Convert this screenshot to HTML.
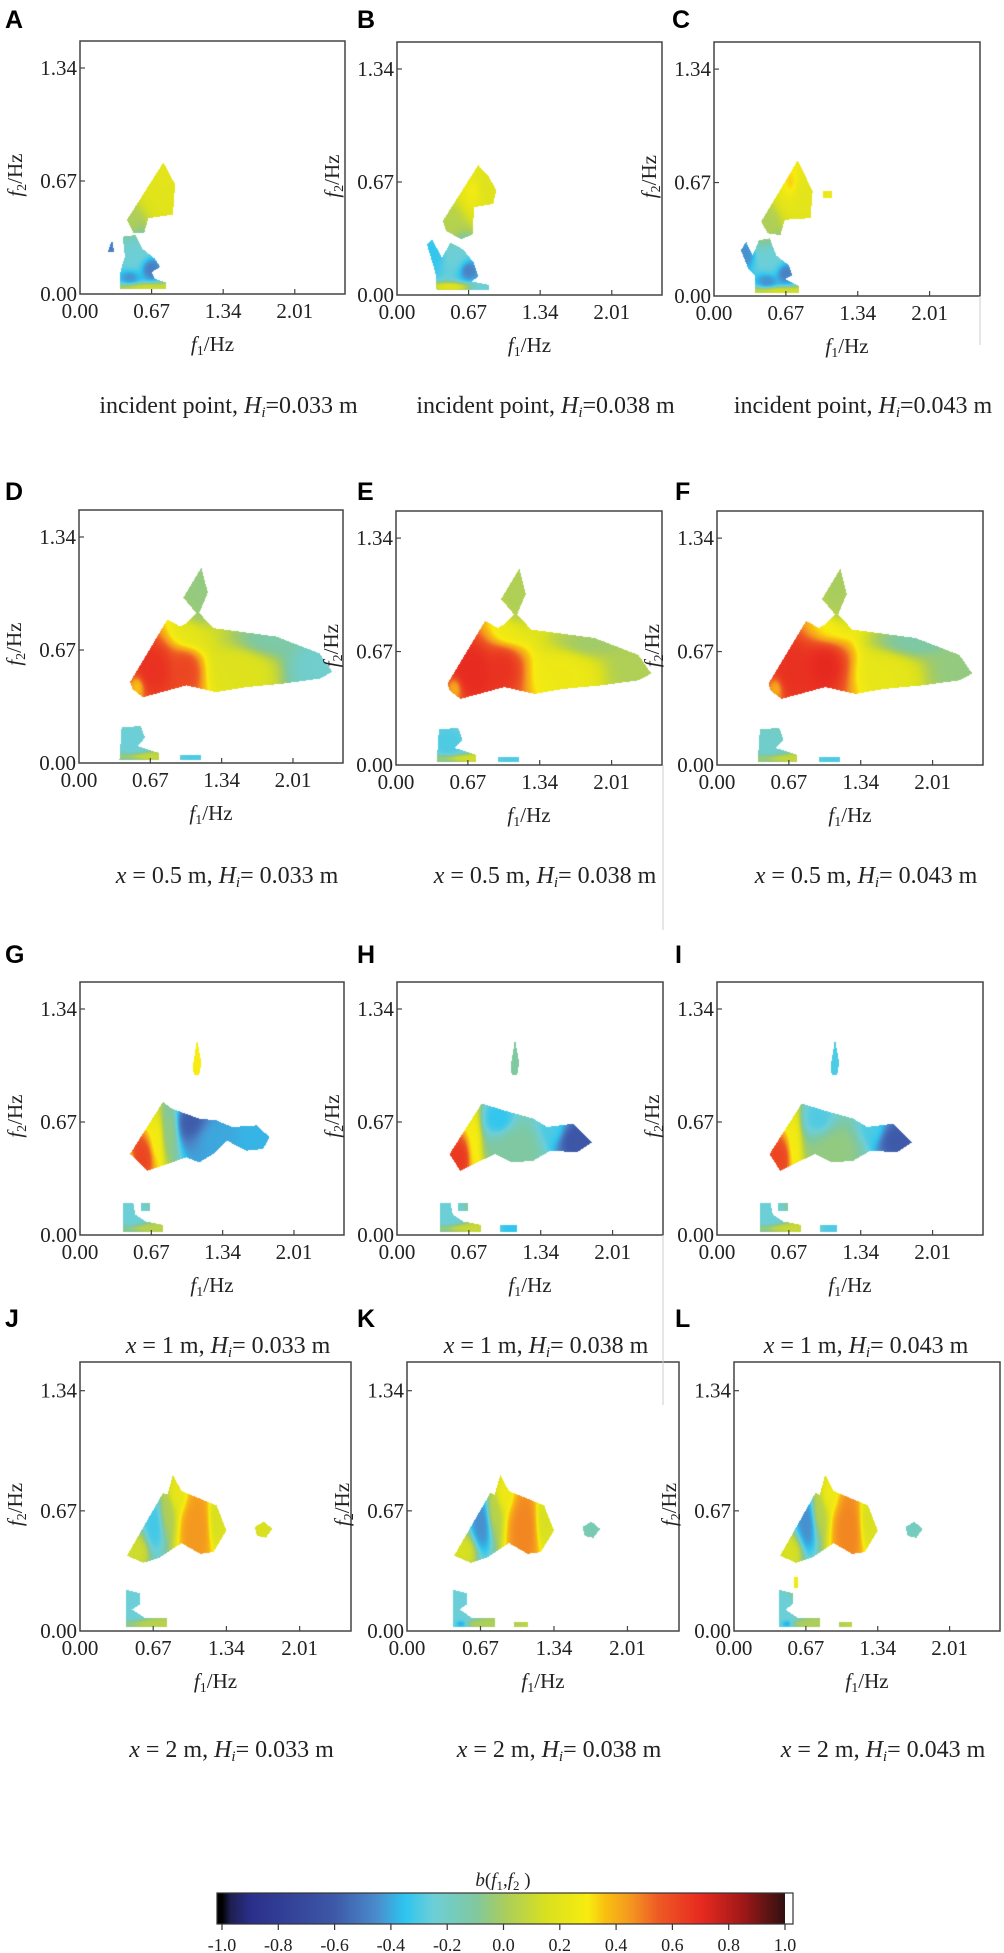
<!DOCTYPE html>
<html><head><meta charset="utf-8">
<style>
html,body{margin:0;padding:0;background:#fff;}
#wrap{position:relative;width:1004px;height:1953px;overflow:hidden;}
#heat{position:absolute;left:0;top:0;}
#ov{position:absolute;left:0;top:0;}
text{font-family:"Liberation Serif",serif;fill:#222;}
.lt{font-family:"Liberation Sans",sans-serif;font-weight:bold;font-size:25px;fill:#000;}
</style></head>
<body>
<div id="wrap">
<canvas id="heat" width="1004" height="1953"></canvas>
<svg id="ov" width="1004" height="1953" xmlns="http://www.w3.org/2000/svg"></svg>
</div>
<script>
// ---------- data ----------
const xTicks=[0.67,1.34,2.01];
const xTickLabels=["0.00","0.67","1.34","2.01"];
const yTicks=[0.67,1.34];
const yTickLabels=["0.00","0.67","1.34"];
const cbTicks=[-1.0,-0.8,-0.6,-0.4,-0.2,0.0,0.2,0.4,0.6,0.8,1.0];
const cbTickLabels=["-1.0","-0.8","-0.6","-0.4","-0.2","0.0","0.2","0.4","0.6","0.8","1.0"];
const panelLetters=["A","B","C","D","E","F","G","H","I","J","K","L"];
const captionsPos=["x = 0.5 m","x = 1 m","x = 2 m"];
const captionsH=["0.033","0.038","0.043"];

// row 1 shapes (f1,f2 in Hz)
const upperA=[[0.44,0.44],[0.78,0.78],[0.89,0.65],[0.87,0.47],[0.64,0.45],[0.60,0.36],[0.50,0.36]];
const lowerA=[[0.40,0.34],[0.52,0.35],[0.58,0.27],[0.70,0.21],[0.75,0.16],[0.67,0.13],[0.70,0.09],[0.80,0.07],[0.81,0.03],[0.37,0.03],[0.38,0.14],[0.42,0.22]];
const triA=[[0.26,0.25],[0.30,0.32],[0.32,0.25]];
const upperB=[[0.43,0.44],[0.76,0.77],[0.86,0.70],[0.93,0.62],[0.90,0.54],[0.72,0.52],[0.71,0.36],[0.60,0.33],[0.46,0.38]];
const lowerB=[[0.28,0.30],[0.33,0.33],[0.42,0.22],[0.50,0.31],[0.62,0.27],[0.72,0.19],[0.76,0.11],[0.70,0.08],[0.86,0.06],[0.86,0.03],[0.37,0.03],[0.36,0.13]];
const upperC=[[0.44,0.44],[0.78,0.80],[0.92,0.62],[0.90,0.46],[0.66,0.45],[0.62,0.36],[0.50,0.37]];
const lowerC=[[0.25,0.27],[0.30,0.32],[0.36,0.24],[0.42,0.33],[0.52,0.34],[0.58,0.24],[0.70,0.18],[0.73,0.12],[0.66,0.10],[0.79,0.06],[0.79,0.02],[0.38,0.02],[0.38,0.12],[0.32,0.16]];
const dotC=[[1.02,0.62],[1.10,0.62],[1.10,0.58],[1.02,0.58]];
// row 2 shapes
const mainD=[[0.48,0.48],[0.83,0.85],[0.95,0.81],[1.01,0.83],[1.10,0.89],[0.98,0.98],[1.15,1.16],[1.21,1.01],[1.13,0.89],[1.26,0.80],[1.85,0.75],[2.26,0.65],[2.38,0.54],[2.26,0.50],[1.91,0.47],[1.57,0.45],[1.29,0.42],[1.01,0.46],[0.60,0.39],[0.50,0.44]];
const bottomD=[[0.40,0.21],[0.58,0.22],[0.62,0.15],[0.55,0.10],[0.75,0.06],[0.75,0.02],[0.38,0.02]];
const stripD=[[0.95,0.05],[1.15,0.05],[1.15,0.02],[0.95,0.02]];
// row 3 shapes
const mainG=[[0.47,0.48],[0.78,0.79],[0.86,0.75],[1.12,0.69],[1.28,0.68],[1.43,0.64],[1.66,0.65],[1.78,0.58],[1.72,0.51],[1.56,0.50],[1.38,0.56],[1.25,0.48],[1.12,0.43],[1.00,0.46],[0.63,0.38]];
const mainH=[[0.49,0.48],[0.79,0.78],[0.99,0.74],[1.27,0.69],[1.40,0.64],[1.64,0.66],[1.82,0.55],[1.68,0.49],[1.43,0.50],[1.27,0.44],[1.07,0.43],[0.91,0.48],[0.59,0.38]];
const spikeG=[[1.06,1.00],[1.10,1.16],[1.14,1.02],[1.12,0.95],[1.07,0.95]];
const bottomG=[[0.40,0.19],[0.50,0.19],[0.52,0.12],[0.62,0.08],[0.78,0.06],[0.78,0.02],[0.40,0.02]];
const dotG=[[0.57,0.19],[0.66,0.19],[0.66,0.14],[0.57,0.14]];
const stripG=[[0.96,0.06],[1.12,0.06],[1.12,0.02],[0.96,0.02]];
// row 4 shapes
const mainJ=[[0.43,0.42],[0.76,0.77],[0.80,0.76],[0.85,0.87],[0.93,0.78],[1.05,0.75],[1.25,0.70],[1.34,0.56],[1.22,0.44],[1.10,0.43],[0.93,0.49],[0.73,0.41],[0.58,0.38]];
const dotJ=[[1.60,0.58],[1.68,0.61],[1.76,0.57],[1.70,0.52],[1.62,0.53]];
const bottomJ=[[0.42,0.23],[0.55,0.21],[0.55,0.15],[0.48,0.12],[0.60,0.07],[0.80,0.07],[0.80,0.02],[0.42,0.02]];
const stripK=[[0.98,0.05],[1.10,0.05],[1.10,0.02],[0.98,0.02]];
const yellowL=[[0.56,0.30],[0.60,0.30],[0.60,0.24],[0.56,0.24]];

// kernels [f1, f2, sigma1, sigma2, value]
const kernA=[[0.75,0.65,0.15,0.15,0.2],[0.48,0.42,0.08,0.08,0.02],[0.5,0.25,0.1,0.1,-0.25],[0.66,0.15,0.06,0.04,-0.5],[0.47,0.10,0.06,0.03,-0.45],[0.6,0.04,0.15,0.015,0.12],[0.28,0.27,0.05,0.05,-0.5]];
const kernB=[[0.72,0.62,0.07,0.07,0.32],[0.8,0.65,0.15,0.12,0.18],[0.5,0.42,0.08,0.08,0.05],[0.35,0.25,0.08,0.08,-0.35],[0.55,0.22,0.1,0.08,-0.25],[0.66,0.15,0.06,0.04,-0.5],[0.5,0.05,0.1,0.015,0.2],[0.8,0.04,0.06,0.015,-0.25]];
const kernC=[[0.72,0.66,0.06,0.07,0.38],[0.8,0.6,0.15,0.12,0.2],[0.5,0.42,0.08,0.08,0.02],[0.3,0.25,0.05,0.05,-0.45],[0.55,0.22,0.1,0.08,-0.25],[0.66,0.14,0.06,0.04,-0.5],[0.5,0.09,0.06,0.03,-0.45],[0.6,0.03,0.15,0.015,0.15],[1.06,0.6,0.05,0.05,0.25]];
const kernD=[[0.70,0.56,0.13,0.10,0.68],[1.0,0.55,0.1,0.09,0.62],[1.05,0.76,0.12,0.06,0.22],[0.55,0.45,0.04,0.04,0.35],[1.5,0.55,0.18,0.09,0.18],[1.8,0.72,0.2,0.05,-0.12],[2.25,0.58,0.15,0.1,-0.22],[1.12,1.0,0.1,0.15,-0.05],[0.5,0.13,0.1,0.08,-0.25],[0.6,0.04,0.15,0.015,0.1],[1.05,0.035,0.1,0.02,-0.3]];
const kernE=[[0.72,0.56,0.14,0.11,0.7],[1.0,0.58,0.12,0.1,0.68],[1.05,0.78,0.12,0.06,0.25],[0.55,0.45,0.04,0.04,0.4],[1.55,0.55,0.18,0.09,0.25],[1.8,0.72,0.2,0.05,-0.02],[2.25,0.58,0.15,0.1,0.02],[1.12,1.0,0.1,0.15,0.02],[0.5,0.13,0.1,0.08,-0.3],[0.6,0.04,0.15,0.015,0.15],[1.05,0.035,0.1,0.02,-0.3]];
const kernF=[[0.72,0.56,0.14,0.11,0.68],[1.02,0.6,0.14,0.11,0.72],[1.05,0.8,0.12,0.06,0.3],[0.55,0.45,0.04,0.04,0.4],[1.55,0.55,0.18,0.09,0.22],[1.8,0.72,0.2,0.05,-0.12],[2.25,0.58,0.15,0.1,-0.05],[1.12,1.0,0.1,0.15,0.0],[0.5,0.13,0.1,0.08,-0.22],[0.6,0.04,0.15,0.015,0.1],[1.05,0.035,0.1,0.02,-0.3]];
const kernG=[[0.58,0.45,0.08,0.07,0.62],[0.72,0.55,0.04,0.1,0.28],[0.85,0.62,0.05,0.1,-0.05],[1.05,0.66,0.1,0.07,-0.6],[1.25,0.58,0.14,0.08,-0.4],[1.65,0.58,0.1,0.06,-0.38],[0.47,0.45,0.03,0.03,0.3],[1.1,1.05,0.1,0.1,0.3],[0.48,0.13,0.08,0.08,-0.25],[0.6,0.04,0.15,0.015,0.05]];
const kernH=[[0.58,0.45,0.07,0.07,0.66],[0.72,0.52,0.035,0.12,0.3],[0.95,0.68,0.08,0.06,-0.35],[1.1,0.52,0.15,0.08,-0.1],[1.65,0.56,0.1,0.06,-0.62],[1.45,0.62,0.08,0.06,-0.3],[1.1,1.05,0.1,0.1,-0.1],[0.48,0.13,0.08,0.08,-0.25],[0.6,0.04,0.15,0.015,0.1],[1.05,0.04,0.06,0.02,-0.35]];
const kernI=[[0.58,0.45,0.07,0.07,0.62],[0.72,0.52,0.035,0.12,0.28],[0.95,0.68,0.08,0.06,-0.3],[1.1,0.52,0.15,0.08,-0.05],[1.65,0.56,0.1,0.06,-0.6],[1.45,0.62,0.08,0.06,-0.3],[1.1,1.05,0.1,0.1,-0.3],[0.48,0.13,0.08,0.08,-0.25],[0.6,0.04,0.15,0.015,0.1],[1.05,0.04,0.06,0.02,-0.3]];
const kernJ=[[0.52,0.44,0.08,0.05,0.12],[0.68,0.57,0.05,0.1,-0.32],[0.8,0.68,0.04,0.08,0.02],[0.88,0.76,0.05,0.05,0.22],[1.07,0.57,0.07,0.11,0.45],[1.25,0.62,0.04,0.08,0.15],[1.68,0.56,0.08,0.05,0.15],[0.48,0.14,0.08,0.08,-0.25],[0.6,0.04,0.15,0.015,0.05]];
const kernK=[[0.52,0.44,0.08,0.05,0.15],[0.68,0.58,0.05,0.1,-0.45],[0.8,0.68,0.04,0.08,0.05],[0.88,0.76,0.05,0.05,0.25],[1.07,0.57,0.07,0.11,0.48],[1.25,0.62,0.04,0.08,0.15],[1.68,0.56,0.08,0.05,-0.15],[0.48,0.14,0.08,0.08,-0.25],[0.5,0.04,0.05,0.015,-0.5],[0.65,0.04,0.15,0.015,0.02]];
const kernL=[[0.52,0.44,0.08,0.05,0.15],[0.68,0.58,0.05,0.1,-0.45],[0.8,0.68,0.04,0.08,0.05],[0.88,0.76,0.05,0.05,0.25],[1.07,0.57,0.07,0.11,0.48],[1.25,0.62,0.04,0.08,0.15],[1.68,0.56,0.08,0.05,-0.18],[0.58,0.27,0.05,0.05,0.3],[0.48,0.14,0.08,0.08,-0.25],[0.5,0.04,0.05,0.015,-0.5],[0.65,0.04,0.15,0.015,0.02]];

// colormap stops
const cmapVals=[-1.0,-0.97,-0.9,-0.6,-0.45,-0.35,-0.25,-0.1,0.0,0.15,0.3,0.36,0.45,0.55,0.7,0.85,1.0];
const cmapCols=["#000000","#1e1e50","#2a2f8a","#3e58a8","#4a8ccc","#2ec5f0","#6ccfd8","#80c8a0","#a8cc60","#d8e020","#f8ec10","#f8c010","#f49820","#ee5a24","#e82a20","#a01818","#301010"];

// ---------- layout ----------
const X_MAX=2.48, Y_MAX=1.5;
const panels=[
 {box:[80,41,345,294],polys:[upperA,lowerA,triA],kern:kernA,lx:5,ly:28},
 {box:[397,42,662,295],polys:[upperB,lowerB],kern:kernB,lx:357,ly:28},
 {box:[714,42,980,296],polys:[upperC,lowerC,dotC],kern:kernC,lx:672,ly:28},
 {box:[79,510,343,763],polys:[mainD,bottomD,stripD],kern:kernD,lx:5,ly:500},
 {box:[396,511,662,765],polys:[mainD,bottomD,stripD],kern:kernE,lx:357,ly:500},
 {box:[717,511,983,765],polys:[mainD,bottomD,stripD],kern:kernF,lx:675,ly:500},
 {box:[80,982,344,1235],polys:[mainG,spikeG,bottomG,dotG],kern:kernG,lx:5,ly:963},
 {box:[397,982,663,1235],polys:[mainH,spikeG,bottomG,dotG,stripG],kern:kernH,lx:357,ly:963},
 {box:[717,982,983,1235],polys:[mainH,spikeG,bottomG,dotG,stripG],kern:kernI,lx:675,ly:963},
 {box:[80,1362,351,1631],polys:[mainJ,dotJ,bottomJ],kern:kernJ,lx:5,ly:1327},
 {box:[407,1362,679,1631],polys:[mainJ,dotJ,bottomJ,stripK],kern:kernK,lx:357,ly:1327},
 {box:[734,1362,1000,1631],polys:[mainJ,dotJ,bottomJ,stripK,yellowL],kern:kernL,lx:675,ly:1327}
];

function hex(c){return [parseInt(c.substr(1,2),16),parseInt(c.substr(3,2),16),parseInt(c.substr(5,2),16)];}
const cmapRGB=cmapCols.map(hex);
function cmap(v){
  v=Math.max(-1,Math.min(1,v));
  for(let i=0;i<cmapVals.length-1;i++){
    if(v<=cmapVals[i+1]){const t=(v-cmapVals[i])/(cmapVals[i+1]-cmapVals[i]);const a=cmapRGB[i],b=cmapRGB[i+1];
      return [a[0]+(b[0]-a[0])*t,a[1]+(b[1]-a[1])*t,a[2]+(b[2]-a[2])*t];}
  }
  return cmapRGB[cmapRGB.length-1];
}
function inPoly(x,y,p){let c=false;for(let i=0,j=p.length-1;i<p.length;j=i++){const xi=p[i][0],yi=p[i][1],xj=p[j][0],yj=p[j][1];
  if(((yi>y)!==(yj>y))&&(x<(xj-xi)*(y-yi)/(yj-yi)+xi))c=!c;}return c;}
function field(k,x,y){let sw=0,sv=0;for(const q of k){const dx=(x-q[0])/q[2],dy=(y-q[1])/q[3];const d2=dx*dx+dy*dy;const w=1/Math.pow(1+d2,2.2);sw+=w;sv+=w*q[4];}return sv/sw;}

// ---------- heatmaps ----------
const cv=document.getElementById('heat');const ctx=cv.getContext('2d');
const img=ctx.createImageData(1004,1953);const D=img.data;
for(let i=0;i<D.length;i+=4){D[i]=255;D[i+1]=255;D[i+2]=255;D[i+3]=255;}
panels.forEach(P=>{
  const [x0,y0,x1,y1]=P.box;
  const sx=f=>x0+f/X_MAX*(x1-x0);
  const sy=f=>y1-f/Y_MAX*(y1-y0);
  const invx=px=>(px-x0)/(x1-x0)*X_MAX;
  const invy=py=>(y1-py)/(y1-y0)*Y_MAX;
  let bx0=1e9,bx1=-1e9,by0=1e9,by1=-1e9;
  P.polys.forEach(p=>p.forEach(pt=>{bx0=Math.min(bx0,sx(pt[0]));bx1=Math.max(bx1,sx(pt[0]));by0=Math.min(by0,sy(pt[1]));by1=Math.max(by1,sy(pt[1]));}));
  for(let py=Math.floor(by0);py<=Math.ceil(by1);py++){
    for(let px=Math.floor(bx0);px<=Math.ceil(bx1);px++){
      const f1=invx(px+0.5),f2=invy(py+0.5);
      let inside=false;for(const p of P.polys){if(inPoly(f1,f2,p)){inside=true;break;}}
      if(!inside)continue;
      const c=cmap(field(P.kern,f1,f2));const o=(py*1004+px)*4;
      D[o]=c[0];D[o+1]=c[1];D[o+2]=c[2];
    }
  }
});
ctx.putImageData(img,0,0);

// ---------- overlay ----------
const svg=document.getElementById('ov');const NS='http://www.w3.org/2000/svg';
function el(t,a,parent){const e=document.createElementNS(NS,t);for(const k in a)e.setAttribute(k,a[k]);(parent||svg).appendChild(e);return e;}

panels.forEach((P,i)=>{
  const [x0,y0,x1,y1]=P.box;
  const sx=f=>x0+f/X_MAX*(x1-x0);
  const sy=f=>y1-f/Y_MAX*(y1-y0);
  const g=el('g',{});
  
  
  const r=el('rect',{x:x0,y:y0,width:x1-x0,height:y1-y0,fill:'none',stroke:'#444','stroke-width':1.5},g);
  
  
  xTicks.forEach(v=>{const t=el('line',{x1:sx(v),x2:sx(v),y1:y1,y2:y1-5,stroke:'#444','stroke-width':1.2},g);
    
    });
  yTicks.forEach(v=>{const t=el('line',{x1:x0,x2:x0+5,y1:sy(v),y2:sy(v),stroke:'#444','stroke-width':1.2},g);
    
    });
  [0].concat(xTicks).forEach((v,j)=>{const t=el('text',{x:sx(v),y:y1+24,'text-anchor':'middle','font-size':21},g);t.textContent=xTickLabels[j];
    
    });
  [0].concat(yTicks).forEach((v,j)=>{const t=el('text',{x:x0-3,y:sy(v)+7,'text-anchor':'end','font-size':21},g);t.textContent=yTickLabels[j];
    
    });
  const xl=el('text',{x:(x0+x1)/2,y:y1+57,'text-anchor':'middle','font-size':21},g);
  xl.innerHTML='<tspan font-style="italic">f</tspan><tspan font-size="14" dy="4">1</tspan><tspan dy="-4">/Hz</tspan>';
  
  
  const yc=(y0+y1)/2+(y1-y0)*0.03;
  const yl=el('text',{x:0,y:0,'text-anchor':'middle','font-size':21,transform:'translate('+(x0-58)+','+yc+') rotate(-90)'},g);
  yl.innerHTML='<tspan font-style="italic">f</tspan><tspan font-size="14" dy="4">2</tspan><tspan dy="-4">/Hz</tspan>';
  
  
  const L=el('text',{x:P.lx,y:P.ly,class:'lt'},g);L.textContent=panelLetters[i];
  
  
  const row=Math.floor(i/3),col=i%3;
  const capY=[413,883,1353,1757][row];
  const cap=el('text',{x:(x0+x1)/2+16,y:capY,'text-anchor':'middle','font-size':24},g);
  if(row===0){cap.innerHTML='incident point, <tspan font-style="italic">H</tspan><tspan font-style="italic" font-size="15" dy="4">i</tspan><tspan dy="-4">=0.'+captionsH[col].slice(2)+' m</tspan>';}
  else{cap.innerHTML='<tspan font-style="italic">x</tspan> = '+captionsPos[row-1].slice(4)+', <tspan font-style="italic">H</tspan><tspan font-style="italic" font-size="15" dy="4">i</tspan><tspan dy="-4">= '+captionsH[col]+' m</tspan>';}
  
  
});
[[980,296,980,345],[663,765,663,930],[663,1235,663,1405]].forEach(a=>{const l=el('line',{x1:a[0],y1:a[1],x2:a[2],y2:a[3],stroke:'#ccc','stroke-width':1});
  
  });

// ---------- colorbar ----------
const cbX0=222,cbX1=785,cbY0=1893,cbY1=1924;
const cbx=v=>cbX0+(v+1)/2*(cbX1-cbX0);
const cbg=el('g',{});


const defs=el('defs',{});
const lg=el('linearGradient',{id:'cbgrad',x1:'0',x2:'1',y1:'0',y2:'0'},defs);
cmapVals.forEach((v,j)=>{el('stop',{offset:((v+1)/2),'stop-color':cmapCols[j]},lg);});
el('rect',{x:217,y:cbY0,width:6,height:cbY1-cbY0,fill:'#000'},cbg);
el('rect',{x:cbX0,y:cbY0,width:cbX1-cbX0,height:cbY1-cbY0,fill:'url(#cbgrad)'},cbg);
el('rect',{x:217,y:cbY0,width:793-217,height:cbY1-cbY0,fill:'none',stroke:'#333','stroke-width':1.2},cbg);
cbTicks.forEach((v,j)=>{
  const t=el('line',{x1:cbx(v),x2:cbx(v),y1:cbY1,y2:cbY1+6,stroke:'#333','stroke-width':1.2},cbg);
  
  
  const lb=el('text',{x:cbx(v),y:1951,'text-anchor':'middle','font-size':18},cbg);lb.textContent=cbTickLabels[j];
  
  
});
const ct=el('text',{x:503,y:1886,'text-anchor':'middle','font-size':19},cbg);
ct.innerHTML='<tspan font-style="italic">b</tspan>(<tspan font-style="italic">f</tspan><tspan font-size="13" dy="4">1</tspan><tspan dy="-4">,</tspan><tspan font-style="italic">f</tspan><tspan font-size="13" dy="4">2</tspan><tspan dy="-4"> )</tspan>';


</script>
</body></html>
